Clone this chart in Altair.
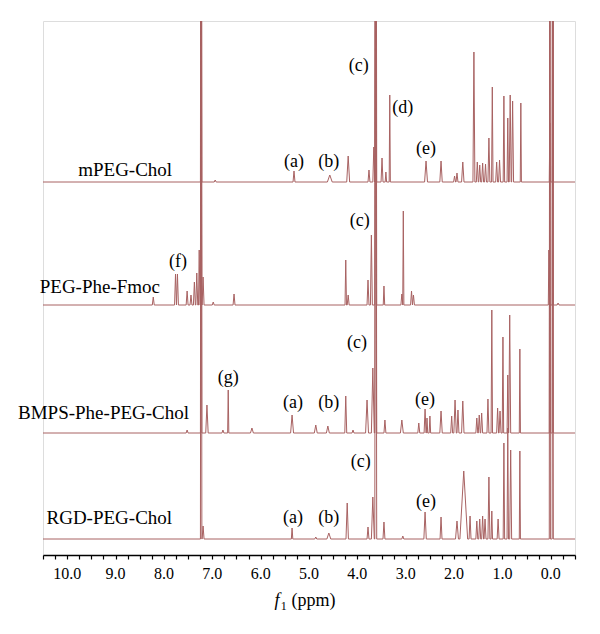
import altair as alt
import pandas as pd

# ---- data: peaks: (ppm, height above baseline, half width) ----
SAMPLES = ["mPEG-Chol", "PEG-Phe-Fmoc", "BMPS-Phe-PEG-Chol", "RGD-PEG-Chol"]
OFFSETS = [373, 250, 122, 16]

MPEG_PEAKS = [
    (7.23, 700, 0.015), (6.94, 2, 0.02), (5.31, 11, 0.02), (4.57, 7, 0.05),
    (4.19, 26, 0.03), (3.76, 12, 0.02), (3.66, 35, 0.02), (3.62, 700, 0.02),
    (3.49, 24, 0.02), (3.41, 10, 0.015), (3.33, 87, 0.012), (2.58, 21, 0.03),
    (2.27, 21, 0.025), (1.99, 6, 0.02), (1.94, 9, 0.02), (1.82, 20, 0.025),
    (1.59, 130, 0.02), (1.52, 20, 0.02), (1.47, 17, 0.02), (1.41, 19, 0.02),
    (1.35, 18, 0.02), (1.28, 44, 0.02), (1.21, 95, 0.015), (1.12, 20, 0.02),
    (1.06, 22, 0.02), (0.97, 86, 0.015), (0.89, 64, 0.015), (0.84, 87, 0.02),
    (0.79, 81, 0.02), (0.62, 79, 0.012), (0.02, 59, 0.012), (-0.04, 700, 0.012),
]
FMOC_PEAKS = [
    (8.22, 8, 0.02), (7.76, 31, 0.02), (7.72, 31, 0.02), (7.52, 14, 0.02),
    (7.44, 10, 0.02), (7.37, 23, 0.02), (7.32, 32, 0.02), (7.27, 55, 0.015),
    (7.23, 700, 0.015), (7.19, 28, 0.02), (6.98, 3, 0.02), (6.55, 11, 0.02),
    (4.24, 45, 0.015), (4.19, 10, 0.02), (3.78, 25, 0.02), (3.71, 70, 0.02),
    (3.62, 700, 0.02), (3.45, 19, 0.015), (3.08, 11, 0.02), (3.05, 94, 0.012),
    (2.88, 14, 0.02), (2.84, 10, 0.02), (0.04, 55, 0.012), (-0.04, 700, 0.012),
    (-0.15, 2, 0.02),
]
BMPS_PEAKS = [
    (7.52, 3, 0.02), (7.23, 700, 0.015), (7.11, 28, 0.025), (6.78, 3, 0.02),
    (6.67, 43, 0.012), (6.18, 5, 0.03), (5.35, 18, 0.03), (4.86, 8, 0.03),
    (4.61, 7, 0.03), (4.24, 37, 0.02), (4.09, 3, 0.02), (3.80, 33, 0.03),
    (3.68, 65, 0.03), (3.62, 700, 0.02), (3.43, 13, 0.02), (3.08, 13, 0.03),
    (2.73, 10, 0.02), (2.60, 24, 0.02), (2.56, 15, 0.015), (2.50, 17, 0.015),
    (2.27, 22, 0.025), (2.05, 17, 0.02), (1.98, 33, 0.025), (1.92, 23, 0.02),
    (1.82, 32, 0.025), (1.53, 15, 0.02), (1.48, 18, 0.02), (1.43, 20, 0.02),
    (1.30, 34, 0.02), (1.22, 123, 0.015), (1.10, 25, 0.02), (1.05, 22, 0.02),
    (0.99, 96, 0.015), (0.89, 58, 0.015), (0.85, 118, 0.02), (0.64, 84, 0.012),
    (0.02, 700, 0.012), (-0.04, 700, 0.012),
]
RGD_PEAKS = [
    (7.23, 700, 0.015), (7.19, 13, 0.02), (5.35, 11, 0.015), (4.86, 2, 0.02),
    (4.59, 6, 0.04), (4.21, 36, 0.025), (3.78, 12, 0.02), (3.68, 42, 0.03),
    (3.62, 700, 0.02), (3.45, 17, 0.02), (3.06, 3, 0.02), (2.60, 27, 0.025),
    (2.27, 22, 0.02), (1.94, 18, 0.03), (1.80, 68, 0.08), (1.67, 23, 0.02),
    (1.53, 18, 0.02), (1.47, 20, 0.02), (1.41, 23, 0.02), (1.36, 20, 0.02),
    (1.28, 62, 0.02), (1.22, 28, 0.015), (1.09, 20, 0.02), (0.97, 96, 0.015),
    (0.89, 111, 0.015), (0.83, 89, 0.02), (0.64, 88, 0.012),
    (0.02, 700, 0.012), (-0.04, 700, 0.012),
]
ALL_PEAKS = [MPEG_PEAKS, FMOC_PEAKS, BMPS_PEAKS, RGD_PEAKS]

# annotation labels: (text, ppm, level)
PEAK_LABELS = [
    ("(c)", 3.97, 489), ("(a)", 5.31, 393), ("(b)", 4.59, 393), ("(d)", 3.06, 447), ("(e)", 2.58, 406),
    ("(f)", 7.71, 293), ("(c)", 3.95, 334),
    ("(g)", 6.67, 177), ("(a)", 5.33, 152), ("(b)", 4.59, 152), ("(c)", 4.01, 212), ("(e)", 2.60, 155),
    ("(a)", 5.33, 37), ("(b)", 4.59, 37), ("(c)", 3.93, 93), ("(e)", 2.58, 53),
]
NAME_POS = [(7.83, 385), (8.08, 268), (7.48, 142), (7.83, 37)]   # right edge

X_MIN, X_MAX = -0.5, 10.5
TICK_LABELS = [10.0, 9.0, 8.0, 7.0, 6.0, 5.0, 4.0, 3.0, 2.0, 1.0, 0.0]
MINOR_TICKS = [X_MAX - 0.25 * k for k in range(45)]

# ---- build line vertices ----
rows = []
for name, off, peaks in zip(SAMPLES, OFFSETS, ALL_PEAKS):
    i = 0
    rows.append(dict(s=name, i=i, ppm=X_MAX, v=off)); i += 1
    for c, h, w in sorted(peaks, key=lambda p: -p[0]):
        rows.append(dict(s=name, i=i, ppm=c + w, v=off)); i += 1
        rows.append(dict(s=name, i=i, ppm=c, v=off + h)); i += 1
        rows.append(dict(s=name, i=i, ppm=c - w, v=off)); i += 1
    rows.append(dict(s=name, i=i, ppm=X_MIN, v=off))
spec = pd.DataFrame(rows)

xs = alt.Scale(domain=[X_MAX, X_MIN], nice=False, zero=False)
ys = alt.Scale(domain=[0, 534], nice=False, zero=False)

XAX = alt.Axis(values=MINOR_TICKS, tickSize=4, tickWidth=1.2, tickColor="black",
               domainColor="black", domainWidth=1.5, labels=False, grid=False, title=None)
YAX = None


def X(field="ppm:Q"):
    return alt.X(field, scale=xs, axis=XAX)


def Y(field="v:Q"):
    return alt.Y(field, scale=ys, axis=YAX)


lines = alt.Chart(spec).mark_line(clip=True, strokeWidth=1.0, color="#a86262").encode(
    x=X(), y=Y(), detail="s:N", order="i:Q",
)

tick_labels = alt.Chart(pd.DataFrame({"ppm": TICK_LABELS})).mark_text(
    baseline="middle", align="center", font="Liberation Serif", fontSize=16, color="black"
).encode(x=X(), y=alt.value(553), text=alt.Text("ppm:Q", format=".1f"))

names = alt.Chart(pd.DataFrame({"t": SAMPLES, "ppm": [p[0] for p in NAME_POS],
                                "v": [p[1] for p in NAME_POS]})).mark_text(
    align="right", baseline="middle", font="Liberation Serif", fontSize=19, color="black"
).encode(x=X(), y=Y(), text="t:N")

plabels = alt.Chart(pd.DataFrame(PEAK_LABELS, columns=["t", "ppm", "v"])).mark_text(
    align="center", baseline="middle", font="Liberation Serif", fontSize=18, color="black"
).encode(x=X(), y=Y(), text="t:N")


def title_part(t, ppm, v, size, align="center", style="normal"):
    return alt.Chart(pd.DataFrame({"t": [t], "ppm": [ppm], "v": [v]})).mark_text(
        align=align, baseline="middle", font="Liberation Serif", fontSize=size,
        fontStyle=style, color="black"
    ).encode(x=X(), y=Y(), text="t:N")


title_f = title_part("f", 5.66, -46, 18, style="italic")
title_1 = title_part("1", 5.52, -51, 12)
title_p = title_part("(ppm)", 5.36, -46, 18, align="left")

chart = alt.layer(lines, tick_labels, names, plabels, title_f, title_1, title_p).properties(
    width=532, height=534,
    autosize=alt.AutoSizeParams(type="none"),
    padding={"left": 35, "top": 13, "right": 17, "bottom": 71},
).configure_view(stroke=None).configure(background="white")

chart.save("out.html", embed_options={"renderer": "svg", "actions": False})
